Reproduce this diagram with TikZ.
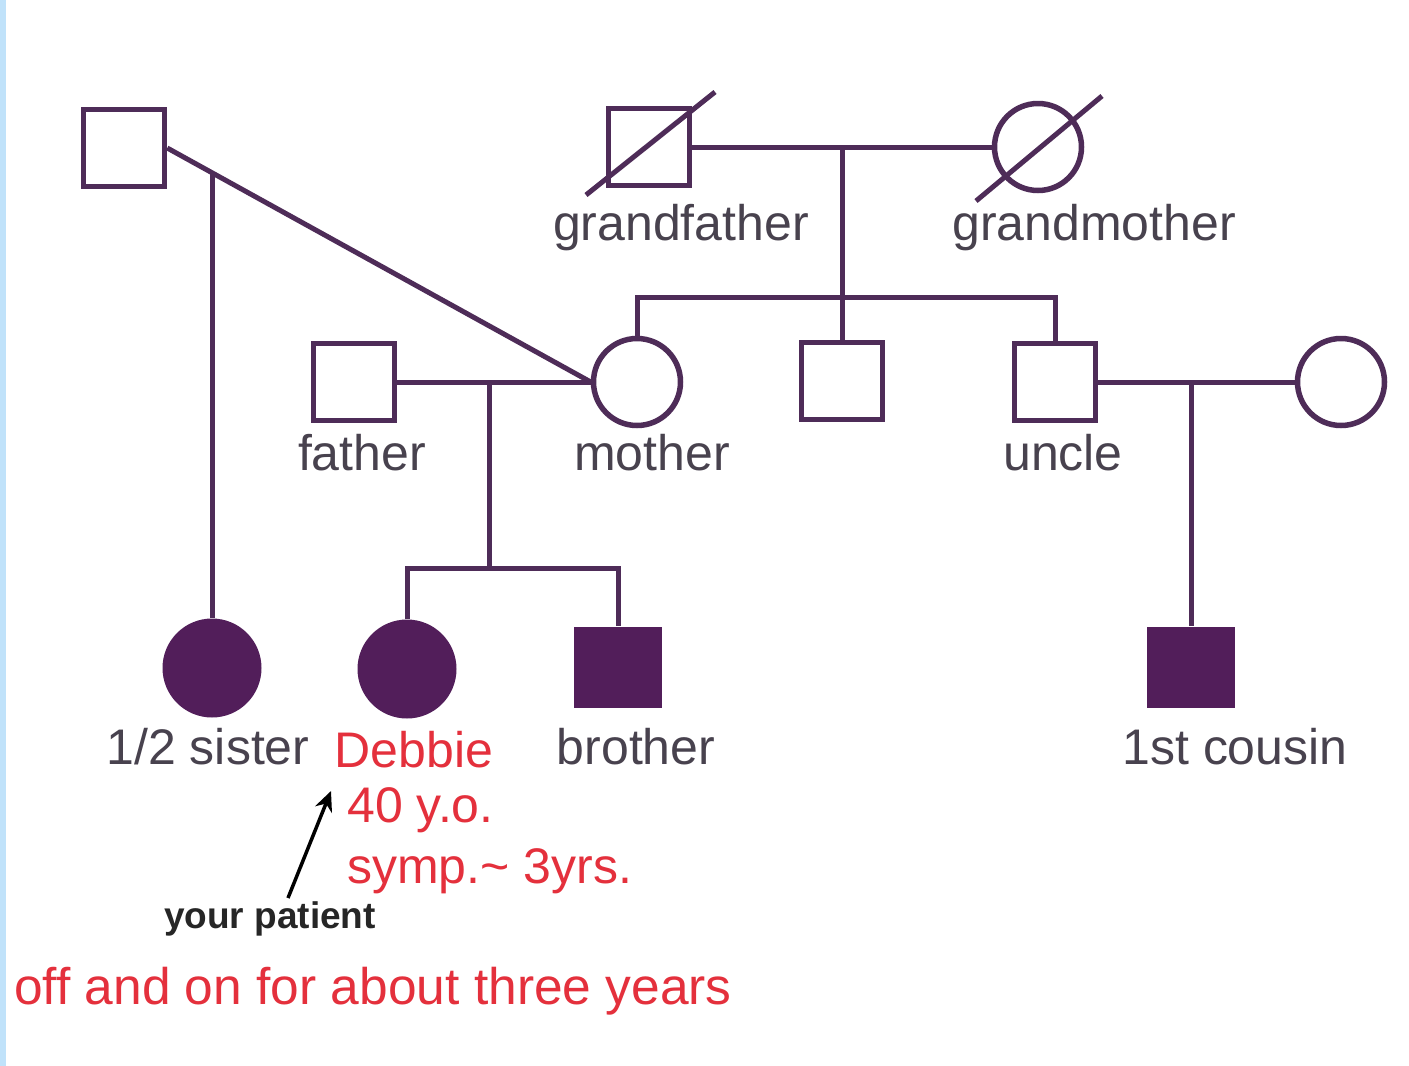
\documentclass[tikz,border=0pt]{standalone}
\usepackage{fontspec}
\setmainfont{Liberation Sans}
\usetikzlibrary{arrows.meta}
\definecolor{pline}{RGB}{78,44,88}
\definecolor{pfill}{RGB}{82,30,90}
\definecolor{lbl}{RGB}{72,66,78}
\definecolor{rtxt}{RGB}{228,48,60}
\definecolor{lblue}{RGB}{192,226,250}
\tikzset{
  male/.style={draw=pline, line width=5.5pt, rectangle, minimum width=81pt, minimum height=77pt, inner sep=0pt, fill=white},
  female/.style={draw=pline, line width=5.5pt, circle, minimum size=87pt, inner sep=0pt, fill=white},
  amale/.style={fill=pfill, rectangle, minimum width=88pt, minimum height=81pt, inner sep=0pt},
  afemale/.style={fill=pfill, circle, minimum size=99pt, inner sep=0pt},
  conn/.style={draw=pline, line width=5pt},
  lab/.style={text=lbl, font=\fontsize{50}{60}\selectfont, anchor=base, inner sep=0pt},
  rlab/.style={text=rtxt, font=\fontsize{50}{60}\selectfont, anchor=base, inner sep=0pt},
}
\begin{document}
\begin{tikzpicture}[x=1pt,y=-1pt]
\useasboundingbox (0,0) rectangle (1409,1066);
\fill[white] (0,0) rectangle (1409,1066);
\fill[lblue] (0,0) rectangle (6,1066);

% generation I
\node[male] (hsf) at (124,148) {};
\node[male] (gf) at (649,147) {};
\node[female] (gm) at (1038,147) {};
\draw[pline, line width=5pt] ([shift={(-63,48)}]gf.center) -- ([shift={(66,-55)}]gf.center);
\draw[pline, line width=5pt] ([shift={(-62,54)}]gm.center) -- ([shift={(64,-51)}]gm.center);

% generation II
\node[male] (father) at (354,382) {};
\node[female] (mother) at (637,382) {};
\node[male] (mid) at (842,381) {};
\node[male] (uncle) at (1055,382) {};
\node[female] (aunt) at (1341,382) {};

% generation III
\node[afemale] (hsis) at (212,668) {};
\node[afemale] (debbie) at (407,669) {};
\node[amale] (brother) at (618,667) {};
\node[amale] (cousin) at (1191,667) {};

% connectors
\draw[conn] (hsf.east) -- (mother.west) coordinate[pos=0.106] (hsd);
\draw[conn] (hsd) -- (hsd |- hsis.north);

\draw[conn] (gf.east) -- (gm.west);
\coordinate (gmid) at (842,147);
\coordinate (sib) at (842,297);
\draw[conn] (gmid) -- (mid.north);
\draw[conn] (mother.north) |- (sib) -| (uncle.north);

\draw[conn] (father.east) -- (mother.west);
\coordinate (fm) at (489,382);
\coordinate (ps) at (489,568);
\draw[conn] (fm) -- (ps);
\draw[conn] (debbie.north) |- (ps) -| (brother.north);

\draw[conn] (uncle.east) -- (aunt.west);
\coordinate (ua) at (1191,382);
\draw[conn] (ua) -- (cousin.north);

% labels
\node[lab] (lgf) at (681,240) {grandfather};
\node[lab] (lgm) at (1094,240) {grandmother};
\node[lab] (lfa) at (362,470) {father};
\node[lab] (lmo) at (652,470) {mother};
\node[lab] (lun) at (1063,470) {uncle};
\node[lab] (lhs) at (208,764) {1/2 sister};
\node[rlab] (ldb) at (414,767) {Debbie};
\node[lab] (lbr) at (636,764) {brother};
\node[lab] (lcu) at (1235,764) {1st cousin};
\node[rlab, anchor=base west] (lage) at (347,822) {40 y.o.};
\node[rlab, anchor=base west] (lsym) at (347,883) {symp.\textasciitilde\ 3yrs.};
\node[text=black!85, font=\bfseries\fontsize{37}{40}\selectfont, anchor=base, inner sep=0pt] (yp) at (270,928) {your patient};
\node[rlab, font=\fontsize{51.5}{60}\selectfont] (loff) at (373,1004) {off and on for about three years};

\coordinate (arrs) at (288,898);
\coordinate (arre) at (331,791);
\draw[black, line width=3.5pt, -{Stealth[length=20pt,width=18pt]}] (arrs) -- (arre);
\end{tikzpicture}
\end{document}
